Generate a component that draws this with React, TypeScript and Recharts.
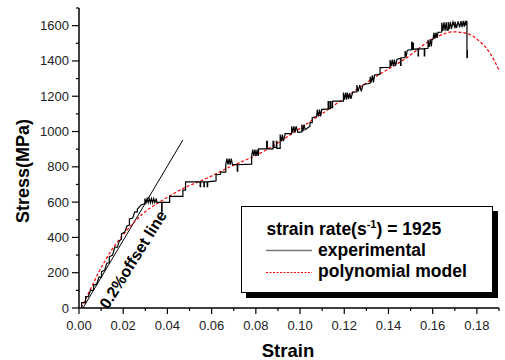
import { Line, LineChart, XAxis, YAxis } from 'recharts';

// strain / stress pairs
const experimental: [number, number][] = [
  [0.0012, 0], [0.0012, 30], [0.003, 30], [0.003, 65], [0.0042, 65], [0.0052, 100],
  [0.0066, 100], [0.0066, 130], [0.008, 135], [0.009, 175], [0.0102, 175], [0.0102, 205],
  [0.0116, 215], [0.0126, 255], [0.0137, 255], [0.0137, 290], [0.0152, 300], [0.0162, 345],
  [0.0174, 345], [0.0182, 380], [0.0192, 390], [0.0192, 420], [0.0207, 430], [0.0217, 465],
  [0.0228, 470], [0.0228, 505], [0.0243, 510], [0.0252, 545], [0.0264, 545], [0.0264, 560],
  [0.0282, 585], [0.0298, 590],
  [0.0298, 620], [0.0303, 597], [0.0308, 620], [0.0313, 597], [0.0318, 620], [0.0323, 597],
  [0.0328, 620], [0.0333, 597], [0.0338, 620], [0.0343, 597], [0.035, 620], [0.0352, 598],
  [0.0374, 598], [0.0374, 546], [0.0376, 546], [0.0376, 598], [0.041, 598], [0.041, 633],
  [0.047, 633], [0.047, 668], [0.0482, 668], [0.0482, 715],
  [0.0548, 715], [0.0548, 688], [0.055, 688], [0.055, 715], [0.0565, 715], [0.0565, 688],
  [0.0567, 688], [0.0567, 715], [0.058, 715], [0.058, 688], [0.0582, 688], [0.0582, 715],
  [0.062, 720], [0.062, 756], [0.064, 758], [0.064, 770], [0.0664, 770], [0.0664, 812],
  [0.0669, 846], [0.0674, 812], [0.0679, 846], [0.0684, 812], [0.0689, 846], [0.0694, 812],
  [0.0716, 812], [0.0716, 775], [0.0718, 775], [0.0718, 812], [0.0781, 815], [0.0781, 860],
  [0.0786, 898], [0.0791, 862], [0.0796, 898], [0.0801, 862], [0.0806, 898], [0.0811, 862],
  [0.0813, 902], [0.0849, 902], [0.0849, 945], [0.0852, 945], [0.0852, 902], [0.0878, 902],
  [0.0878, 945], [0.0881, 945], [0.0881, 910], [0.0893, 910], [0.0893, 945], [0.0895, 945],
  [0.0895, 905], [0.091, 905], [0.091, 983], [0.0915, 945], [0.092, 983], [0.0925, 945],
  [0.0932, 983], [0.0932, 988], [0.0962, 988], [0.0962, 1030], [0.0967, 995], [0.0972, 1030],
  [0.0977, 995], [0.0982, 1030], [0.099, 996], [0.1008, 998], [0.1008, 1040], [0.1013, 1000],
  [0.1018, 1040], [0.1023, 1010], [0.1045, 1030], [0.1045, 1050], [0.1055, 1050],
  [0.1055, 1078], [0.1075, 1085], [0.1078, 1125], [0.1083, 1085], [0.1088, 1125],
  [0.1093, 1085], [0.1098, 1125], [0.1105, 1125], [0.1127, 1128], [0.1127, 1170],
  [0.113, 1170], [0.113, 1130], [0.1137, 1130], [0.1137, 1170], [0.114, 1170], [0.114, 1135],
  [0.1147, 1135], [0.1147, 1172], [0.1196, 1172], [0.1196, 1220], [0.1201, 1180],
  [0.1206, 1220], [0.1211, 1180], [0.1214, 1220], [0.122, 1185], [0.1225, 1218],
  [0.123, 1185], [0.1238, 1222], [0.1257, 1225], [0.1257, 1263], [0.1263, 1228],
  [0.127, 1263], [0.1277, 1228], [0.1284, 1263], [0.1294, 1268], [0.1317, 1273],
  [0.1317, 1310], [0.1322, 1278], [0.1327, 1318], [0.1332, 1278], [0.1337, 1320],
  [0.1348, 1322], [0.1362, 1325], [0.1362, 1362], [0.1407, 1364], [0.1407, 1405],
  [0.1412, 1370], [0.1417, 1408], [0.1422, 1370], [0.1427, 1408], [0.1432, 1372],
  [0.1439, 1410], [0.1455, 1415], [0.1455, 1375], [0.1457, 1375], [0.1457, 1418],
  [0.1475, 1418], [0.1475, 1457], [0.148, 1425], [0.1485, 1460], [0.149, 1462],
  [0.1505, 1464], [0.1505, 1505], [0.1508, 1505], [0.1508, 1466], [0.1511, 1466],
  [0.1511, 1500], [0.1513, 1500], [0.1513, 1467], [0.1534, 1468], [0.1534, 1428],
  [0.1536, 1428], [0.1536, 1468], [0.1562, 1470], [0.1562, 1428], [0.1564, 1428],
  [0.1564, 1470], [0.1579, 1472], [0.1579, 1520], [0.1584, 1480], [0.1589, 1522],
  [0.1594, 1482], [0.1597, 1523], [0.1602, 1523], [0.1605, 1560], [0.161, 1527],
  [0.1615, 1560], [0.162, 1530], [0.1624, 1562], [0.1641, 1564], [0.1641, 1617],
  [0.1646, 1570], [0.1651, 1619], [0.1656, 1572], [0.1661, 1619], [0.1665, 1575],
  [0.167, 1575], [0.167, 1620], [0.1675, 1580], [0.168, 1622], [0.1685, 1582],
  [0.1692, 1622], [0.1701, 1585], [0.1701, 1622], [0.1708, 1588], [0.1715, 1624],
  [0.1722, 1590], [0.1728, 1625], [0.1733, 1592], [0.1738, 1627], [0.1743, 1595],
  [0.1748, 1627], [0.1752, 1600], [0.1755, 1628], [0.1755, 1419], [0.1757, 1420],
  [0.1757, 1462],
];

const polynomial: [number, number][] = [
  [0.001, 0], [0.005, 102], [0.0087, 197], [0.0148, 329], [0.0193, 404], [0.0246, 482],
  [0.0291, 537], [0.0367, 602], [0.0472, 678], [0.0578, 735], [0.0683, 800], [0.0804, 867],
  [0.1068, 1075], [0.1354, 1320], [0.1467, 1405], [0.1619, 1537], [0.1694, 1565],
  [0.1754, 1556], [0.1814, 1509], [0.186, 1443], [0.19, 1348],
];

const offsetLine: [number, number][] = [
  [0.0018, 0], [0.047, 952],
];

const xTicks = [
  0, 0.01, 0.02, 0.03, 0.04, 0.05, 0.06, 0.07, 0.08, 0.09, 0.1,
  0.11, 0.12, 0.13, 0.14, 0.15, 0.16, 0.17, 0.18, 0.19,
];
const yTicks = [
  0, 100, 200, 300, 400, 500, 600, 700, 800, 900, 1000, 1100, 1200, 1300, 1400, 1500, 1600, 1700,
];

const toPoints = (arr: [number, number][]) => arr.map(([x, y]) => ({ x, y }));

const FONT = '"Liberation Sans", Arial, sans-serif';

function XTick(props: any) {
  const { x, y, payload } = props;
  const v = payload.value as number;
  const major = Math.round(v * 100) % 2 === 0;
  return (
    <g>
      <line x1={x} x2={x} y1={y} y2={y + (major ? 6 : 3)} stroke="#000" strokeWidth={1.2} />
      {major && v < 0.19 && (
        <text x={x} y={y + 22} textAnchor="middle" fontSize={13} fill="#222" fontFamily={FONT}>
          {v.toFixed(2)}
        </text>
      )}
    </g>
  );
}

function YTick(props: any) {
  const { x, y, payload } = props;
  const v = payload.value as number;
  const major = v % 200 === 0;
  return (
    <g>
      <line x1={x - (major ? 7 : 3)} x2={x} y1={y} y2={y} stroke="#000" strokeWidth={1.2} />
      {major && v <= 1600 && (
        <text x={x - 10} y={y + 4.5} textAnchor="end" fontSize={13} fill="#222" fontFamily={FONT}>
          {v}
        </text>
      )}
    </g>
  );
}

export default function App() {
  return (
    <div
      style={{
        position: 'absolute',
        left: 0,
        top: 0,
        width: 505,
        height: 360,
        background: '#fff',
        fontFamily: FONT,
      }}
    >
      <LineChart width={505} height={360} margin={{ top: 8, right: 6, left: 0, bottom: 0 }}>
        <XAxis
          type="number"
          dataKey="x"
          domain={[0, 0.19]}
          ticks={xTicks}
          height={52}
          tickSize={0}
          tickMargin={0}
          tickLine={false}
          tick={<XTick />}
          axisLine={{ stroke: '#000', strokeWidth: 1.5 }}
          allowDataOverflow
          interval={0}
        />
        <YAxis
          type="number"
          dataKey="y"
          domain={[0, 1700]}
          ticks={yTicks}
          width={79}
          tickSize={0}
          tickMargin={0}
          tickLine={false}
          tick={<YTick />}
          axisLine={{ stroke: '#000', strokeWidth: 1.5 }}
          allowDataOverflow
          interval={0}
        />
        <Line
          data={toPoints(offsetLine)}
          dataKey="y"
          type="linear"
          stroke="#000"
          strokeWidth={1}
          dot={false}
          isAnimationActive={false}
        />
        <Line
          data={toPoints(polynomial)}
          dataKey="y"
          type="monotone"
          stroke="#ff0000"
          strokeWidth={1.2}
          strokeDasharray="3 2"
          dot={false}
          isAnimationActive={false}
        />
        <Line
          data={toPoints(experimental)}
          dataKey="y"
          type="linear"
          stroke="#000"
          strokeWidth={1.2}
          dot={false}
          isAnimationActive={false}
        />
      </LineChart>
      <svg
        width={505}
        height={360}
        style={{ position: 'absolute', left: 0, top: 0, pointerEvents: 'none' }}
        fontFamily={FONT}
      >
        <text
          transform="translate(29 171) rotate(-90)"
          textAnchor="middle"
          fontSize={18}
          fontWeight="bold"
          fill="#000"
        >
          Stress(MPa)
        </text>
        <text x={288} y={356.5} textAnchor="middle" fontSize={18.5} fontWeight="bold" fill="#000">
          Strain
        </text>
        <text
          transform="translate(108 310) rotate(-58)"
          textAnchor="start"
          fontSize={16}
          fontWeight="bold"
          fill="#000"
        >
          0.2%offset line
        </text>
        <rect x={246} y={211} width={252} height={87} fill="#000" />
        <rect x={241.5} y={206.5} width={251} height={86} fill="#fff" stroke="#000" strokeWidth={1} />
        <text x={266.5} y={235} fontSize={17.5} fontWeight="bold" fill="#000">
          strain rate(s
          <tspan fontSize={11} dy={-7}>-1</tspan>
          <tspan dy={7}>) = 1925</tspan>
        </text>
        <line x1={266} x2={312} y1={250.5} y2={250.5} stroke="#777" strokeWidth={1.3} />
        <text x={318} y={256} fontSize={17.5} fontWeight="bold" fill="#000">
          experimental
        </text>
        <line
          x1={266}
          x2={312}
          y1={272.5}
          y2={272.5}
          stroke="#ff0000"
          strokeWidth={1}
          strokeDasharray="2 1.5"
        />
        <text x={318} y={277} fontSize={17.5} fontWeight="bold" fill="#000">
          polynomial model
        </text>
      </svg>
    </div>
  );
}
